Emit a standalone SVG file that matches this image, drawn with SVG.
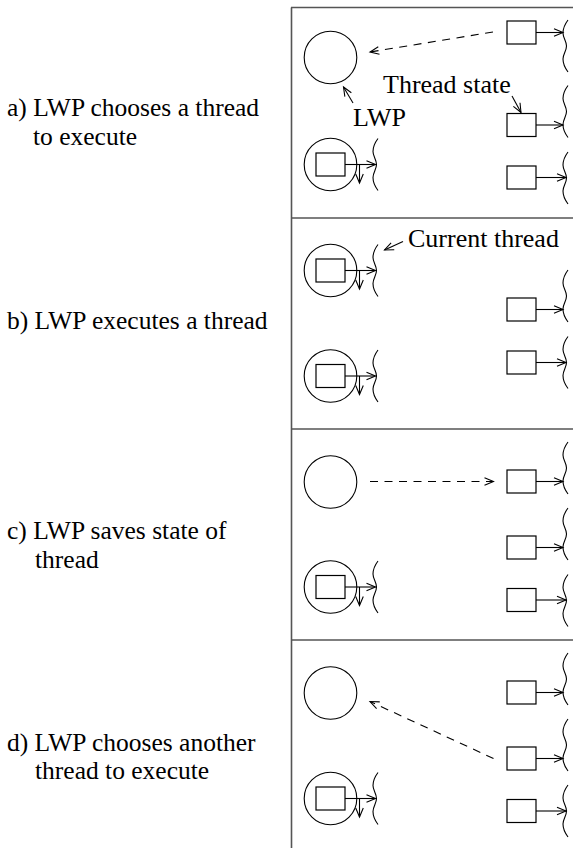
<svg xmlns="http://www.w3.org/2000/svg" width="573" height="848" viewBox="0 0 573 848">
<style>
  .t { font-family: "Liberation Serif", "Times New Roman", serif; font-size: 26px; fill: #000; }
  .lt { font-family: "Liberation Serif", "Times New Roman", serif; font-size: 25.5px; fill: #000; }
  .frame { stroke: #555; stroke-width: 1.6; fill: none; }
  .c { fill: none; stroke: #000; stroke-width: 1.1; }
  .bx { fill: #fff; stroke: #000; stroke-width: 1.2; }
  .sq { fill: none; stroke: #000; stroke-width: 1.1; }
  .ar { fill: none; stroke: #000; stroke-width: 1.1; marker-end: url(#ah); }
  .da { fill: none; stroke: #000; stroke-width: 1.1; stroke-dasharray: 8 6.5; marker-end: url(#ah); }
</style>
<defs>
  <marker id="ah" viewBox="0 0 10 10" refX="10" refY="5" markerWidth="9" markerHeight="9" markerUnits="userSpaceOnUse" orient="auto" overflow="visible">
    <path d="M0,0.8 L10,5 L0,9.2" fill="none" stroke="#000" stroke-width="1.2"/>
  </marker>
  <path id="wave" d="M0,0 C-3,4 -5,8.5 -5,13 C-5,18 -1.5,21 -1.5,26 C-1.5,31 -5,34 -5,39 C-5,43.5 -3,48 0,52"/>
</defs>

<g id="frame">
  <line class="frame" x1="291.5" y1="7.5" x2="291.5" y2="848"/>
  <line class="frame" x1="291" y1="7.5" x2="573" y2="7.5"/>
  <line class="frame" x1="291" y1="218" x2="573" y2="218"/>
  <line class="frame" x1="291" y1="429" x2="573" y2="429"/>
  <line class="frame" x1="291" y1="640" x2="573" y2="640"/>
</g>

<g id="labels">
  <text class="lt" x="7" y="115.5">a) LWP chooses a thread</text>
  <text class="lt" x="33" y="144.5">to execute</text>
  <text class="lt" x="7" y="329">b) LWP executes a thread</text>
  <text class="lt" x="7" y="538.5">c) LWP saves state of</text>
  <text class="lt" x="35" y="567.5">thread</text>
  <text class="lt" x="7" y="750.5">d) LWP chooses another</text>
  <text class="lt" x="35" y="779">thread to execute</text>
</g>

<!-- Panel a -->
<g id="panel-a">
  <g id="a-lwp-idle"><circle class="c" cx="330.5" cy="57.5" r="26.3"/></g>
  <g id="a-lwp-busy">
    <circle class="c" cx="330.5" cy="164.5" r="26.3"/>
    <rect class="bx" x="316" y="153" width="29" height="23"/>
    <use href="#wave" class="sq" x="378" y="138.5"/>
  </g>
  <g id="a-t1"><rect class="bx" x="507" y="21" width="29" height="23"/><use href="#wave" class="sq" x="568" y="20"/></g>
  <g id="a-t2"><rect class="bx" x="507" y="113.5" width="29" height="23"/><use href="#wave" class="sq" x="568" y="85.5"/></g>
  <g id="a-t3"><rect class="bx" x="507" y="166" width="29" height="23"/><use href="#wave" class="sq" x="568" y="152"/></g>
  <text class="t" x="383" y="93">Thread state</text>
  <text class="t" x="353" y="126">LWP</text>
</g>

<!-- Panel b -->
<g id="panel-b">
  <g id="b-lwp1">
    <circle class="c" cx="330.5" cy="270.5" r="26.3"/>
    <rect class="bx" x="316" y="259" width="29" height="23"/>
    <use href="#wave" class="sq" x="378" y="244.5"/>
  </g>
  <g id="b-lwp2">
    <circle class="c" cx="330.5" cy="376" r="26.3"/>
    <rect class="bx" x="316" y="364.5" width="29" height="23"/>
    <use href="#wave" class="sq" x="378" y="350"/>
  </g>
  <g id="b-t1"><rect class="bx" x="507" y="298" width="29" height="23"/><use href="#wave" class="sq" x="568" y="270"/></g>
  <g id="b-t2"><rect class="bx" x="507" y="351" width="29" height="23"/><use href="#wave" class="sq" x="568" y="336.5"/></g>
  <text class="t" x="408" y="247">Current thread</text>
</g>

<!-- Panel c -->
<g id="panel-c">
  <g id="c-lwp-idle"><circle class="c" cx="330.5" cy="482" r="26.3"/></g>
  <g id="c-lwp-busy">
    <circle class="c" cx="330.5" cy="587" r="26.3"/>
    <rect class="bx" x="316" y="575.5" width="29" height="23"/>
    <use href="#wave" class="sq" x="378" y="561"/>
  </g>
  <g id="c-t1"><rect class="bx" x="507" y="470" width="29" height="23"/><use href="#wave" class="sq" x="568" y="442"/></g>
  <g id="c-t2"><rect class="bx" x="507" y="536" width="29" height="23"/><use href="#wave" class="sq" x="568" y="508"/></g>
  <g id="c-t3"><rect class="bx" x="507" y="588.5" width="29" height="23"/><use href="#wave" class="sq" x="568" y="574.5"/></g>
</g>

<!-- Panel d -->
<g id="panel-d">
  <g id="d-lwp-idle"><circle class="c" cx="330.5" cy="693" r="26.3"/></g>
  <g id="d-lwp-busy">
    <circle class="c" cx="330.5" cy="798.5" r="26.3"/>
    <rect class="bx" x="316" y="787" width="29" height="23"/>
    <use href="#wave" class="sq" x="378" y="772.5"/>
  </g>
  <g id="d-t1"><rect class="bx" x="507" y="681" width="29" height="23"/><use href="#wave" class="sq" x="568" y="653"/></g>
  <g id="d-t2"><rect class="bx" x="507" y="747" width="29" height="23"/><use href="#wave" class="sq" x="568" y="719"/></g>
  <g id="d-t3"><rect class="bx" x="507" y="799.5" width="29" height="23"/><use href="#wave" class="sq" x="568" y="785"/></g>
</g>

<g id="connectors">
  <!-- panel a -->
  <line class="da" x1="493" y1="32" x2="370" y2="52"/>
  <line class="ar" x1="345" y1="164.5" x2="375.5" y2="164.5"/>
  <line class="ar" x1="359.5" y1="164.5" x2="359.5" y2="183"/>
  <line class="ar" x1="536" y1="32.5" x2="563" y2="32.5"/>
  <line class="ar" x1="536" y1="125" x2="563" y2="125"/>
  <line class="ar" x1="536" y1="177.5" x2="566" y2="177.5"/>
  <line class="ar" x1="512" y1="96" x2="521" y2="112.5"/>
  <line class="ar" x1="353" y1="103" x2="343.5" y2="87"/>
  <!-- panel b -->
  <line class="ar" x1="345" y1="270.5" x2="375.5" y2="270.5"/>
  <line class="ar" x1="359.5" y1="270.5" x2="359.5" y2="289"/>
  <line class="ar" x1="345" y1="376" x2="375.5" y2="376"/>
  <line class="ar" x1="359.5" y1="376" x2="359.5" y2="394.5"/>
  <line class="ar" x1="536" y1="309.5" x2="563" y2="309.5"/>
  <line class="ar" x1="536" y1="362.5" x2="566" y2="362.5"/>
  <line class="ar" x1="403" y1="241.5" x2="384.5" y2="250"/>
  <!-- panel c -->
  <line class="da" x1="370" y1="481.5" x2="493.5" y2="481.5"/>
  <line class="ar" x1="345" y1="587" x2="375.5" y2="587"/>
  <line class="ar" x1="359.5" y1="587" x2="359.5" y2="605.5"/>
  <line class="ar" x1="536" y1="481.5" x2="563" y2="481.5"/>
  <line class="ar" x1="536" y1="547.5" x2="563" y2="547.5"/>
  <line class="ar" x1="536" y1="600" x2="566" y2="600"/>
  <!-- panel d -->
  <line class="da" x1="493.5" y1="758.5" x2="370" y2="701.5"/>
  <line class="ar" x1="345" y1="798.5" x2="375.5" y2="798.5"/>
  <line class="ar" x1="359.5" y1="798.5" x2="359.5" y2="817"/>
  <line class="ar" x1="536" y1="692.5" x2="563" y2="692.5"/>
  <line class="ar" x1="536" y1="758.5" x2="563" y2="758.5"/>
  <line class="ar" x1="536" y1="811" x2="566" y2="811"/>
</g>
</svg>
